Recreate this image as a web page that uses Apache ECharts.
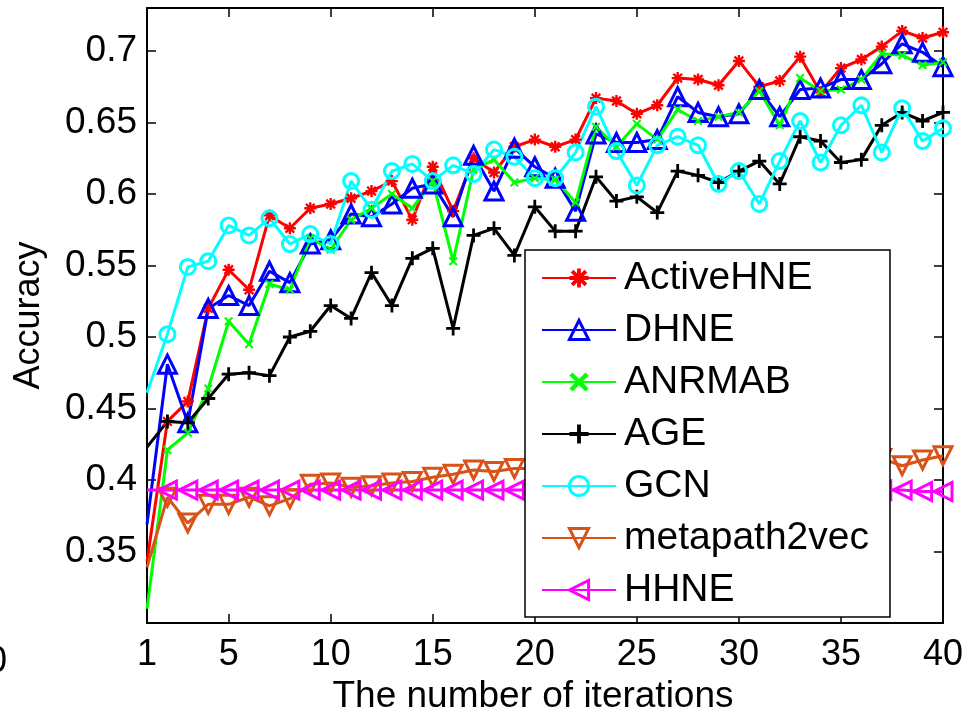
<!DOCTYPE html>
<html>
<head>
<meta charset="utf-8">
<script src="https://cdn.jsdelivr.net/npm/echarts@6/dist/echarts.min.js"></script>
<style>
  html, body { margin: 0; padding: 0; background: #fff; }
  #chart { width: 967px; height: 720px; }
</style>
</head>
<body>
<div id="chart"></div>
<script>
const iterations = [1, 2, 3, 4, 5, 6, 7, 8, 9, 10, 11, 12, 13, 14, 15, 16, 17, 18, 19, 20,
  21, 22, 23, 24, 25, 26, 27, 28, 29, 30, 31, 32, 33, 34, 35, 36, 37, 38, 39, 40];
const xTicks = [1, 5, 10, 15, 20, 25, 30, 35, 40];
const yTicks = [0.35, 0.4, 0.45, 0.5, 0.55, 0.6, 0.65, 0.7];

const activeHNE = [0.343, 0.441, 0.455, 0.520, 0.547, 0.533, 0.585, 0.576, 0.590, 0.593,
  0.597, 0.602, 0.609, 0.582, 0.619, 0.588, 0.625, 0.615, 0.633, 0.638,
  0.633, 0.638, 0.667, 0.665, 0.656, 0.662, 0.681, 0.680, 0.676, 0.693,
  0.675, 0.679, 0.696, 0.671, 0.688, 0.694, 0.703, 0.714, 0.709, 0.713];
const dhne = [0.369, 0.481, 0.440, 0.520, 0.529, 0.522, 0.546, 0.538, 0.565, 0.568,
  0.586, 0.584, 0.593, 0.604, 0.607, 0.584, 0.627, 0.602, 0.632, 0.619,
  0.611, 0.588, 0.642, 0.636, 0.636, 0.638, 0.668, 0.657, 0.654, 0.656,
  0.673, 0.654, 0.673, 0.674, 0.680, 0.680, 0.691, 0.705, 0.699, 0.689];
const anrmab = [0.310, 0.421, 0.433, 0.464, 0.511, 0.495, 0.537, 0.533, 0.569, 0.561,
  0.582, 0.590, 0.600, 0.590, 0.609, 0.553, 0.617, 0.624, 0.608, 0.611,
  0.610, 0.594, 0.647, 0.633, 0.649, 0.638, 0.659, 0.651, 0.654, 0.657,
  0.672, 0.648, 0.681, 0.672, 0.673, 0.680, 0.698, 0.697, 0.690, 0.692];
const age = [0.423, 0.441, 0.440, 0.457, 0.474, 0.475, 0.473, 0.500, 0.504, 0.522,
  0.513, 0.545, 0.522, 0.555, 0.562, 0.506, 0.571, 0.576, 0.557, 0.591,
  0.574, 0.574, 0.612, 0.595, 0.598, 0.587, 0.616, 0.613, 0.608, 0.616,
  0.623, 0.607, 0.640, 0.637, 0.622, 0.624, 0.648, 0.657, 0.651, 0.657];
const gcn = [0.461, 0.502, 0.549, 0.553, 0.578, 0.571, 0.583, 0.565, 0.572, 0.565,
  0.609, 0.589, 0.616, 0.621, 0.609, 0.620, 0.614, 0.631, 0.626, 0.611,
  0.611, 0.629, 0.661, 0.630, 0.606, 0.634, 0.640, 0.634, 0.607, 0.616,
  0.593, 0.623, 0.651, 0.622, 0.648, 0.662, 0.629, 0.660, 0.637, 0.646];
const metapath2vec = [0.339, 0.388, 0.370, 0.383, 0.383, 0.388, 0.382, 0.387, 0.397, 0.398,
  0.395, 0.396, 0.398, 0.399, 0.402, 0.404, 0.407, 0.406, 0.408, 0.408,
  0.409, 0.409, 0.410, 0.410, 0.411, 0.410, 0.411, 0.412, 0.411, 0.412,
  0.412, 0.413, 0.413, 0.414, 0.413, 0.414, 0.415, 0.410, 0.414, 0.417];
const hhne = [0.393, 0.393, 0.393, 0.393, 0.393, 0.393, 0.393, 0.393, 0.393, 0.393,
  0.393, 0.393, 0.393, 0.393, 0.393, 0.393, 0.393, 0.393, 0.393, 0.393,
  0.393, 0.393, 0.393, 0.393, 0.393, 0.393, 0.393, 0.393, 0.393, 0.393,
  0.393, 0.393, 0.393, 0.393, 0.393, 0.393, 0.393, 0.393, 0.392, 0.392];

const FONT = '"Liberation Sans", Arial, Helvetica, sans-serif';

// matlab-like marker shapes
const ASTERISK = "path://M4,0L6,0L6,10L4,10Z M0,4L10,4L10,6L0,6Z M0.7,2.1L2.1,0.7L9.3,7.9L7.9,9.3Z M7.9,0.7L9.3,2.1L2.1,9.3L0.7,7.9Z";
const CROSS = "path://M0.7,2.1L2.1,0.7L9.3,7.9L7.9,9.3Z M7.9,0.7L9.3,2.1L2.1,9.3L0.7,7.9Z";
const PLUS = "path://M4,0L6,0L6,10L4,10Z M0,4L10,4L10,6L0,6Z";

// the first point sits on the left axis and shows no marker in the original
function pairs(values) {
  return iterations.map((x, i) => (i === 0 ? { value: [x, values[i]], symbol: "none" } : [x, values[i]]));
}

function makeSeries(name, values, color, marker) {
  const hollow = marker.hollow;
  return {
    name,
    type: "line",
    data: pairs(values),
    symbol: marker.symbol,
    symbolSize: marker.size,
    symbolRotate: marker.rotate || 0,
    showAllSymbol: true,
    clip: false,
    lineStyle: { color, width: 3 },
    itemStyle: hollow
      ? { color: "transparent", borderColor: color, borderWidth: 3 }
      : { color, borderWidth: 0 },
    emphasis: { disabled: true }
  };
}

const series = [
  makeSeries("ActiveHNE", activeHNE, "#ff0000", { symbol: ASTERISK, size: 12 }),
  makeSeries("DHNE", dhne, "#0000ff", { symbol: "triangle", size: 18, hollow: true }),
  makeSeries("ANRMAB", anrmab, "#00ff00", { symbol: CROSS, size: 9 }),
  makeSeries("AGE", age, "#000000", { symbol: PLUS, size: 14 }),
  makeSeries("GCN", gcn, "#00ffff", { symbol: "circle", size: 15, hollow: true }),
  makeSeries("metapath2vec", metapath2vec, "#d95319", { symbol: "triangle", size: 18, rotate: 180, hollow: true }),
  makeSeries("HHNE", hhne, "#ff00ff", { symbol: "triangle", size: 18, rotate: 90, hollow: true })
];

const axisLine = { show: true, onZero: false, lineStyle: { color: "#000", width: 2 } };

const chart = echarts.init(document.getElementById("chart"), null, { renderer: "canvas" });
chart.setOption({
  animation: false,
  textStyle: { fontFamily: FONT },
  grid: { left: 147, right: 24, top: 8, bottom: 90, containLabel: false },
  xAxis: [
    {
      type: "value",
      min: 1,
      max: 40,
      position: "bottom",
      name: "The number of iterations",
      nameLocation: "middle",
      nameGap: 46,
      nameTextStyle: { fontSize: 37, color: "#000", fontFamily: FONT, padding: [0, 24, 0, 0] },
      axisLine,
      axisTick: { inside: true, length: 9, lineStyle: { color: "#000", width: 1.5 }, customValues: xTicks },
      axisLabel: { fontSize: 36, color: "#000", margin: 14, fontFamily: FONT, customValues: xTicks },
      splitLine: { show: false }
    },
    {
      type: "value",
      min: 1,
      max: 40,
      position: "top",
      axisLine,
      axisTick: { inside: true, length: 9, lineStyle: { color: "#000", width: 1.5 }, customValues: xTicks },
      axisLabel: { show: false },
      splitLine: { show: false }
    }
  ],
  yAxis: [
    {
      type: "value",
      min: 0.3,
      max: 0.73,
      position: "left",
      name: "Accuracy",
      nameLocation: "middle",
      nameGap: 100,
      nameTextStyle: { fontSize: 36, color: "#000", fontFamily: FONT },
      axisLine,
      axisTick: { inside: true, length: 9, lineStyle: { color: "#000", width: 1.5 }, customValues: yTicks },
      axisLabel: { fontSize: 37, color: "#000", margin: 10, fontFamily: FONT, customValues: yTicks },
      splitLine: { show: false }
    },
    {
      type: "value",
      min: 0.3,
      max: 0.73,
      position: "right",
      axisLine,
      axisTick: { inside: true, length: 9, lineStyle: { color: "#000", width: 1.5 }, customValues: yTicks },
      axisLabel: { show: false },
      splitLine: { show: false }
    }
  ],
  legend: {
    orient: "vertical",
    left: 525,
    top: 250,
    itemWidth: 74,
    itemHeight: 24,
    itemGap: 8,
    padding: [6, 21, 5, 16],
    backgroundColor: "#fff",
    borderColor: "#000",
    borderWidth: 1.5,
    borderRadius: 0,
    selectedMode: false,
    itemStyle: { borderWidth: 3 },
    textStyle: { fontSize: 39, lineHeight: 44, color: "#000", fontFamily: FONT, padding: [0, 0, 0, 3] },
    data: series.map((s) => s.name)
  },
  graphic: [
    {
      type: "text",
      left: -13,
      top: 644,
      style: { text: "0", font: "36px " + FONT, fill: "#000" }
    }
  ],
  series
});
</script>
</body>
</html>
